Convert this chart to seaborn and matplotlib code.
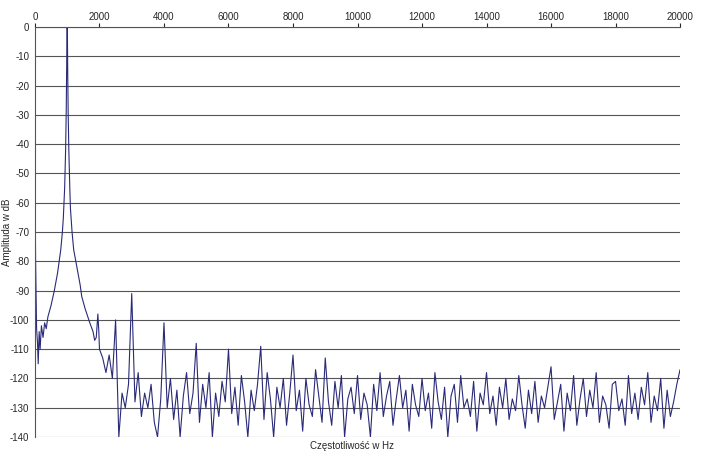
import numpy as np
import pandas as pd
import matplotlib
matplotlib.use("Agg")
import matplotlib.pyplot as plt
import seaborn as sns

# low-frequency part and main peak (Hz, dB)
freq_low = [0, 20, 50, 80, 100, 130, 160, 200, 250, 300, 350, 400, 500, 600, 700, 750, 800,
            850, 880, 920, 950, 970, 985, 995, 1005, 1015, 1030, 1050, 1080, 1100, 1150, 1200,
            1300, 1400, 1450, 1550, 1700, 1800, 1850, 1900, 1950, 1980]
amp_low = [-55, -80, -103, -108, -115, -104, -110, -102, -106, -101, -103, -99, -95, -90,
           -84, -80, -76, -70, -65, -55, -42, -28, -12, 0, -1, -15, -30, -42, -55, -62, -70, -76,
           -82, -88, -92, -96, -101, -104, -107, -106, -98, -104]

# noise floor, 100 Hz steps from 2000 Hz to 20000 Hz
noise = [
    -110, -113, -118, -112, -120, -100, -140, -125, -130, -122,
    -91, -128, -118, -133, -125, -130, -122, -135, -140, -127,
    -101, -130, -120, -134, -124, -140, -126, -118, -132, -125,
    -108, -135, -122, -130, -118, -140, -125, -133, -121, -128,
    -110, -132, -123, -136, -119, -128, -140, -124, -131, -122,
    -109, -134, -118, -127, -140, -123, -130, -120, -136, -125,
    -112, -131, -124, -138, -120, -129, -133, -117, -126, -135,
    -113, -128, -136, -121, -130, -119, -140, -127, -123, -132,
    -119, -134, -125, -129, -140, -122, -131, -118, -133, -126,
    -121, -136, -127, -119, -130, -124, -138, -122, -129, -133,
    -120, -131, -125, -137, -118, -128, -134, -123, -140, -126,
    -122, -135, -119, -130, -127, -133, -121, -138, -125, -129,
    -118, -132, -126, -136, -123, -130, -120, -134, -127, -131,
    -119, -129, -137, -124, -132, -121, -135, -126, -130, -123,
    -116, -134, -128, -122, -138, -125, -131, -119, -136, -127,
    -120, -133, -124, -130, -118, -135, -126, -129, -137, -122,
    -121, -131, -127, -136, -119, -132, -125, -134, -123, -129,
    -118, -135, -126, -131, -120, -137, -124, -133, -128, -122,
    -117,
]
freq_noise = list(range(2000, 20001, 100))

df = pd.DataFrame({"f": freq_low + freq_noise, "a": amp_low + noise})

sns.set_style("white")
plt.rcParams["font.family"] = ["Liberation Sans", "DejaVu Sans"]
plt.rcParams["axes.unicode_minus"] = False
fig = plt.figure(figsize=(7.05, 4.51), dpi=100)
ax = fig.add_axes([0.0496, 0.031, 0.915, 0.909])
sns.lineplot(data=df, x="f", y="a", ax=ax, color="#2a2a78", linewidth=0.8)

ax.set_xlim(0, 20000)
ax.set_ylim(-140, 0)
ax.set_xticks(range(0, 20001, 2000))
ax.set_yticks(range(-140, 1, 10))
ax.xaxis.tick_top()
ax.tick_params(labelsize=7, length=3, direction="out", pad=1)
ax.yaxis.grid(True, color="#555555", linewidth=0.8)
for s in ["right", "bottom"]:
    ax.spines[s].set_visible(False)
ax.spines["left"].set_color("#555555")
ax.spines["top"].set_color("#555555")
ax.set_xlabel("")
ax.set_ylabel("Amplituda w dB", fontsize=7)
ax.yaxis.set_label_coords(-0.036, 0.5)
fig.text(0.5, 0.012, "Częstotliwość w Hz", fontsize=7, ha="center", va="center")

fig.savefig("out.png", dpi=100)
